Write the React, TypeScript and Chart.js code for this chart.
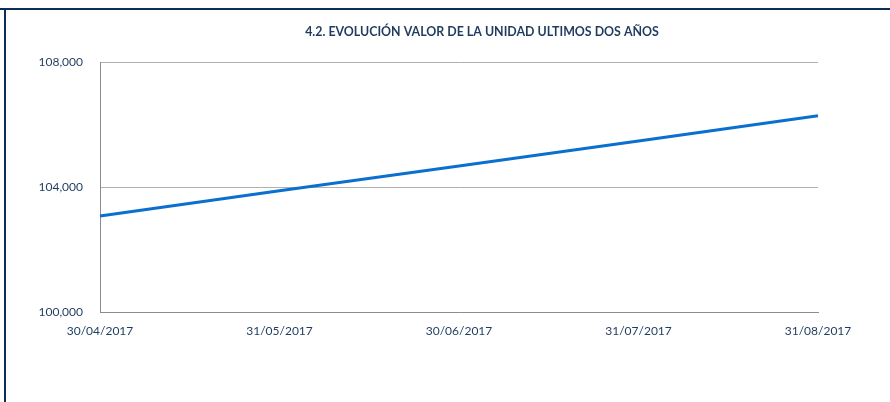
import React, { useEffect, useRef } from "react";
import { Chart, registerables } from "chart.js";

Chart.register(...registerables);

const TITLE = "4.2. EVOLUCIÓN VALOR DE LA UNIDAD ULTIMOS DOS AÑOS";
const dates = ["30/04/2017", "31/05/2017", "30/06/2017", "31/07/2017", "31/08/2017"];
const unitValues = [103070, 103880, 104670, 105470, 106280];
const yTicks = [100000, 104000, 108000];

const LABEL_COLOR = "#1f3b5e";
const FRAME_COLOR = "#0b2e55";
const FONT = "Lato, 'Open Sans', sans-serif";

export default function App() {
  const ref = useRef<HTMLCanvasElement | null>(null);

  useEffect(() => {
    if (!ref.current) return;
    const framePlugin = {
      id: "frameTitle",
      beforeDraw(chart: any) {
        const ctx = chart.ctx;
        ctx.save();
        ctx.fillStyle = "#ffffff";
        ctx.fillRect(0, 0, chart.width, chart.height);
        ctx.fillStyle = FRAME_COLOR;
        ctx.fillRect(0, 8, chart.width, 2);
        ctx.fillRect(4, 8, 2, chart.height - 8);
        ctx.font = `bold 12.4px ${FONT}`;
        ctx.fillStyle = LABEL_COLOR;
        ctx.textAlign = "center";
        ctx.textBaseline = "middle";
        ctx.fillText(TITLE, 482, 32);
        ctx.restore();
      },
    };

    const chart = new Chart(ref.current, {
      type: "line",
      data: {
        labels: dates,
        datasets: [
          {
            data: unitValues,
            borderColor: "#0b6fcf",
            borderWidth: 3,
            pointRadius: 0,
            tension: 0,
            fill: false,
          },
        ],
      },
      options: {
        animation: false,
        responsive: false,
        maintainAspectRatio: false,
        layout: { padding: { top: 62, right: 72, left: 0, bottom: 0 } },
        plugins: {
          legend: { display: false },
          title: { display: false },
          tooltip: { enabled: false },
        },
        scales: {
          x: {
            offset: false,
            grid: { display: false, drawTicks: false },
            border: { display: true, color: "#8c8c8c", width: 1 },
            ticks: {
              color: LABEL_COLOR,
              font: { family: FONT, size: 12 },
              padding: 12,
              maxRotation: 0,
              autoSkip: false,
            },
            afterFit(scale: any) {
              scale.height = 90;
            },
          },
          y: {
            min: 100000,
            max: 108000,
            afterBuildTicks(scale: any) {
              scale.ticks = yTicks.map((v) => ({ value: v }));
            },
            grid: { color: "#b0b0b0", lineWidth: 1, drawTicks: false },
            border: { display: true, color: "#8c8c8c", width: 1 },
            ticks: {
              color: LABEL_COLOR,
              font: { family: FONT, size: 12 },
              padding: 17,
              callback: (v: any) => Number(v).toLocaleString("en-US"),
            },
            afterFit(scale: any) {
              scale.width = 100;
            },
          },
        },
      },
      plugins: [framePlugin],
    });
    return () => chart.destroy();
  }, []);

  return (
    <div style={{ position: "fixed", left: 0, top: 0, width: 890, height: 402, background: "#fff" }}>
      <canvas ref={ref} width={890} height={402} style={{ display: "block", width: 890, height: 402 }} />
    </div>
  );
}
